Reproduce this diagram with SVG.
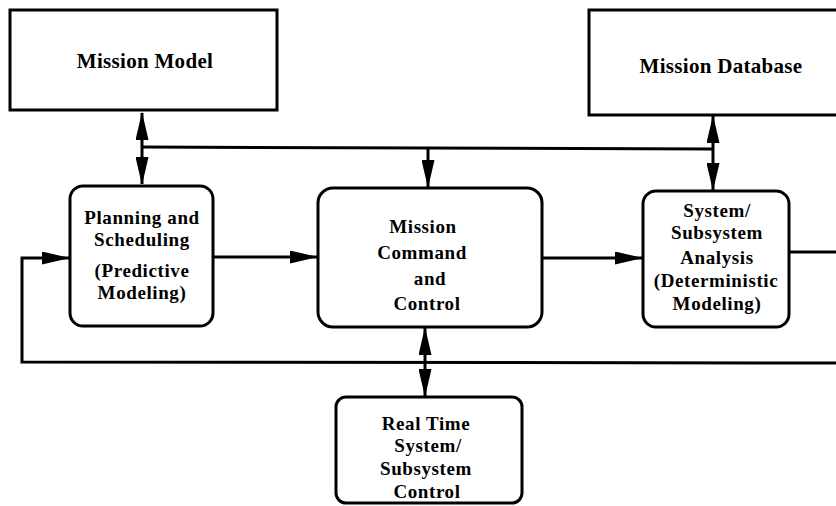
<svg xmlns="http://www.w3.org/2000/svg" width="836" height="506" viewBox="0 0 836 506">
<style>
.box{fill:#fff;stroke:#000;stroke-width:3}
.ln{fill:none;stroke:#000;stroke-width:3}
.t{font-family:"Liberation Serif","Times New Roman",serif;font-weight:bold;font-size:19px;letter-spacing:0.6px;text-anchor:middle;fill:#000}
.big{font-size:21px;letter-spacing:0.3px}
</style>
<defs>
<marker id="ah" markerUnits="userSpaceOnUse" markerWidth="28" markerHeight="13" refX="27" refY="6.5" orient="auto-start-reverse" viewBox="0 0 28 13">
<path d="M0,0 L28,6.5 L0,13 z" fill="#000"/>
</marker>
</defs>
<rect width="836" height="506" fill="#fff"/>
<g id="connectors">
<line class="ln" x1="142" y1="113" x2="142" y2="184" marker-start="url(#ah)" marker-end="url(#ah)"/>
<line class="ln" x1="142" y1="147" x2="713" y2="149"/>
<line class="ln" x1="713" y1="116" x2="713" y2="190" marker-start="url(#ah)" marker-end="url(#ah)"/>
<line class="ln" x1="428" y1="148" x2="428" y2="187" marker-end="url(#ah)"/>
<line class="ln" x1="213" y1="257" x2="317" y2="257" marker-end="url(#ah)"/>
<line class="ln" x1="542" y1="258" x2="642" y2="258" marker-end="url(#ah)"/>
<line class="ln" x1="789" y1="252" x2="836" y2="252"/>
<polyline class="ln" points="836,363 22,362 22,258 69,258" marker-end="url(#ah)"/>
<line class="ln" x1="425" y1="328" x2="425" y2="396" marker-start="url(#ah)" marker-end="url(#ah)"/>
</g>
<g id="mission-model">
<rect class="box" x="10" y="10" width="267" height="100"/>
<text class="t big" x="145" y="68">Mission Model</text>
</g>
<g id="mission-database">
<rect class="box" x="589" y="10" width="260" height="105"/>
<text class="t big" x="721" y="73">Mission Database</text>
</g>
<g id="planning">
<rect class="box" x="70" y="186" width="143" height="140" rx="13"/>
<text class="t" x="142" y="224">Planning and</text>
<text class="t" x="142" y="246">Scheduling</text>
<text class="t" x="142" y="277">(Predictive</text>
<text class="t" x="142" y="299">Modeling)</text>
</g>
<g id="command">
<rect class="box" x="318" y="188" width="224" height="139" rx="15"/>
<text class="t" x="423" y="233">Mission</text>
<text class="t" x="422" y="259">Command</text>
<text class="t" x="430" y="285">and</text>
<text class="t" x="427" y="310">Control</text>
</g>
<g id="analysis">
<rect class="box" x="643" y="191" width="146" height="136" rx="13"/>
<text class="t" x="717" y="217">System/</text>
<text class="t" x="717" y="239">Subsystem</text>
<text class="t" x="717" y="264">Analysis</text>
<text class="t" x="716" y="287">(Deterministic</text>
<text class="t" x="717" y="310">Modeling)</text>
</g>
<g id="realtime">
<rect class="box" x="336" y="397" width="186" height="106" rx="10"/>
<text class="t" x="426" y="430">Real Time</text>
<text class="t" x="428" y="452">System/</text>
<text class="t" x="426" y="475">Subsystem</text>
<text class="t" x="427" y="498">Control</text>
</g>
</svg>
